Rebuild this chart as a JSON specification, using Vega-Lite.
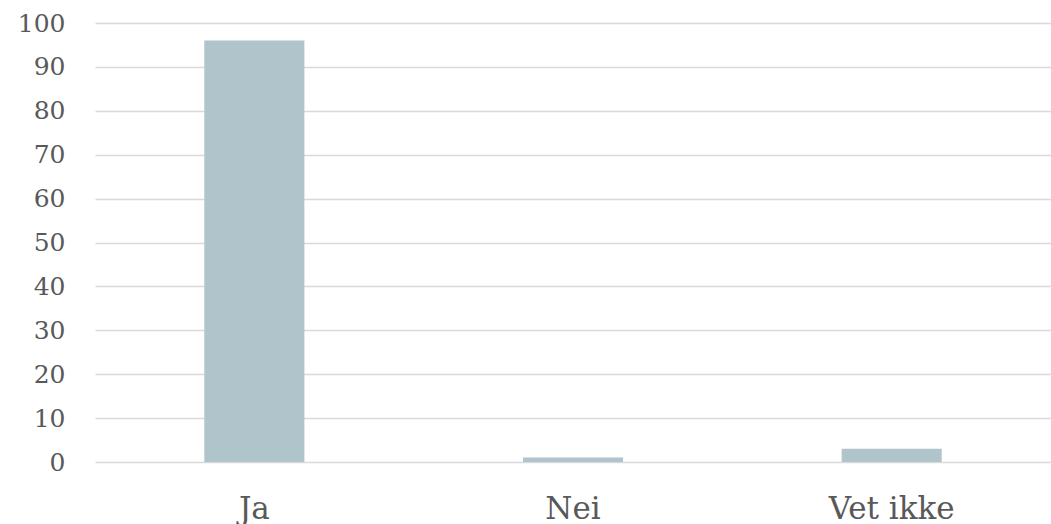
{
  "$schema": "https://vega.github.io/schema/vega-lite/v6.json",
  "width": 956,
  "height": 439,
  "autosize": {"type": "none"},
  "padding": {"left": 95, "top": 23, "right": 0, "bottom": 62},
  "background": "white",
  "config": {
    "view": {"stroke": null},
    "font": "DejaVu Serif"
  },
  "data": {
    "values": [
      {"svar": "Ja", "prosent": 96},
      {"svar": "Nei", "prosent": 1},
      {"svar": "Vet ikke", "prosent": 3}
    ]
  },
  "mark": {"type": "bar", "color": "#b0c4cc"},
  "encoding": {
    "x": {
      "field": "svar",
      "type": "nominal",
      "sort": null,
      "scale": {"paddingInner": 0.686, "paddingOuter": 0.343},
      "axis": {
        "title": null,
        "labelAngle": 0,
        "domain": false,
        "ticks": false,
        "labelFontSize": 31,
        "labelColor": "#595959",
        "labelBaseline": "alphabetic",
        "labelPadding": 56,
        "labelFont": "DejaVu Serif"
      }
    },
    "y": {
      "field": "prosent",
      "type": "quantitative",
      "scale": {"domain": [0, 100], "nice": false},
      "axis": {
        "title": null,
        "values": [0, 10, 20, 30, 40, 50, 60, 70, 80, 90, 100],
        "domain": false,
        "ticks": false,
        "grid": true,
        "gridColor": "#d9d9d9",
        "gridWidth": 1.5,
        "labelFontSize": 25,
        "labelColor": "#595959",
        "labelPadding": 30,
        "labelFont": "DejaVu Serif"
      }
    }
  }
}
